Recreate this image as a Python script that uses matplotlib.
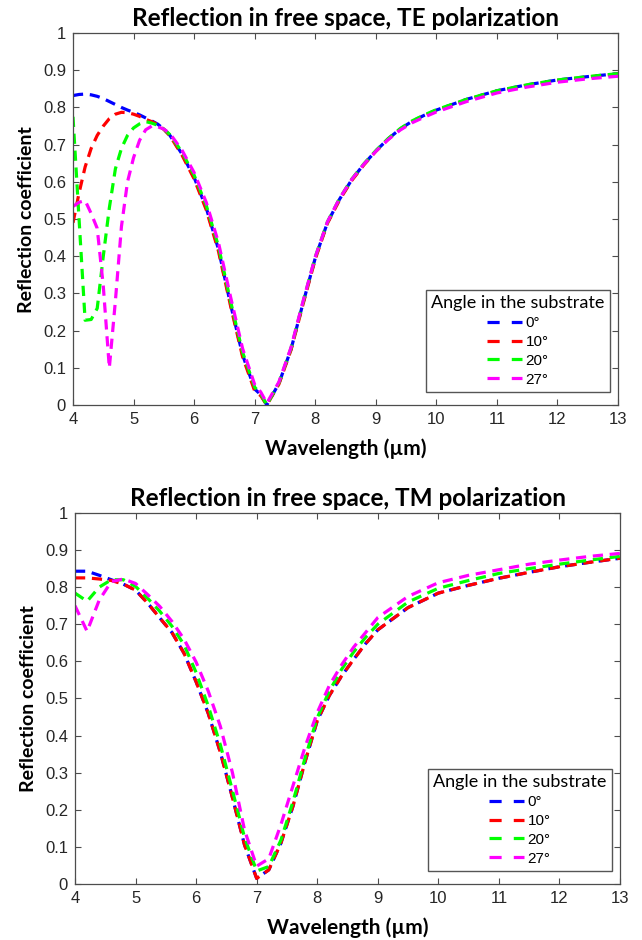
import matplotlib
matplotlib.use("Agg")
import matplotlib.pyplot as plt
from matplotlib.lines import Line2D

# ---- data ----
angles = ["0°", "10°", "20°", "27°"]
colors = ["#0000ff", "#ff0000", "#00ff00", "#ff00ff"]

# TE polarization
te_wl = [4.0, 4.1, 4.2, 4.3, 4.4, 4.5, 4.6, 4.7, 4.8, 4.9, 5.0, 5.1, 5.2, 5.3, 5.4, 5.5, 5.6,
         5.8, 6.0, 6.2, 6.4, 6.6, 6.8, 7.0, 7.1, 7.2, 7.4, 7.6, 7.8, 8.0, 8.2, 8.4, 8.6, 8.8,
         9.0, 9.2, 9.4, 9.6, 9.8, 10.0, 10.5, 11.0, 11.5, 12.0, 12.5, 13.0]
te_0 = [0.832, 0.835, 0.836, 0.834, 0.830, 0.824, 0.816, 0.808, 0.800, 0.793, 0.787, 0.780, 0.772,
        0.764, 0.755, 0.742, 0.725,
        0.675, 0.612, 0.530, 0.420, 0.272, 0.135, 0.043, 0.028, 0.000, 0.058, 0.150, 0.275, 0.395,
        0.490, 0.553, 0.605, 0.647, 0.683, 0.715, 0.742, 0.763, 0.779, 0.793, 0.822, 0.845, 0.861,
        0.874, 0.883, 0.891]
te_10 = [0.490, 0.570, 0.640, 0.690, 0.725, 0.750, 0.770, 0.782, 0.787, 0.786, 0.782, 0.776, 0.768,
         0.762, 0.754, 0.741, 0.724,
         0.672, 0.608, 0.525, 0.415, 0.268, 0.130, 0.038, 0.025, 0.000, 0.056, 0.148, 0.272, 0.392,
         0.488, 0.551, 0.603, 0.645, 0.682, 0.714, 0.741, 0.762, 0.778, 0.792, 0.821, 0.844, 0.860,
         0.873, 0.882, 0.890]
te_20 = [0.775, 0.500, 0.228, 0.230, 0.260, 0.400, 0.530, 0.635, 0.690, 0.725, 0.745, 0.756, 0.762,
         0.758, 0.752, 0.742, 0.727,
         0.680, 0.618, 0.537, 0.428, 0.280, 0.142, 0.048, 0.030, 0.000, 0.060, 0.153, 0.278, 0.398,
         0.492, 0.555, 0.607, 0.648, 0.684, 0.716, 0.743, 0.764, 0.780, 0.794, 0.822, 0.845, 0.861,
         0.874, 0.883, 0.891]
te_27 = [0.534, 0.545, 0.550, 0.515, 0.475, 0.320, 0.100, 0.280, 0.480, 0.600, 0.665, 0.712, 0.740,
         0.750, 0.748, 0.742, 0.730,
         0.685, 0.625, 0.545, 0.438, 0.292, 0.152, 0.055, 0.035, 0.005, 0.062, 0.155, 0.280, 0.398,
         0.492, 0.555, 0.606, 0.647, 0.682, 0.713, 0.739, 0.759, 0.774, 0.788, 0.816, 0.839, 0.855,
         0.868, 0.877, 0.884]

# TM polarization
tm_wl = [4.0, 4.2, 4.4, 4.6, 4.8, 5.0, 5.2, 5.4, 5.6, 5.8, 6.0, 6.2, 6.4, 6.6, 6.8, 7.0, 7.2,
         7.4, 7.6, 7.8, 8.0, 8.2, 8.4, 8.6, 8.8, 9.0, 9.5, 10.0, 10.5, 11.0, 11.5, 12.0, 12.5, 13.0]
tm_0 = [0.843, 0.843, 0.832, 0.820, 0.808, 0.792, 0.757, 0.717, 0.678, 0.622, 0.545, 0.460, 0.355,
        0.233, 0.105, 0.015, 0.038, 0.110, 0.210, 0.330, 0.440, 0.508, 0.560, 0.605, 0.648, 0.685,
        0.745, 0.784, 0.805, 0.824, 0.840, 0.855, 0.867, 0.878]
tm_10 = [0.825, 0.825, 0.822, 0.818, 0.808, 0.792, 0.757, 0.717, 0.678, 0.622, 0.545, 0.460, 0.355,
         0.233, 0.105, 0.015, 0.038, 0.110, 0.210, 0.330, 0.440, 0.508, 0.560, 0.605, 0.648, 0.685,
         0.745, 0.784, 0.805, 0.824, 0.840, 0.855, 0.867, 0.878]
tm_20 = [0.784, 0.762, 0.800, 0.820, 0.820, 0.802, 0.770, 0.735, 0.695, 0.645, 0.570, 0.480, 0.375,
         0.252, 0.125, 0.035, 0.047, 0.118, 0.222, 0.340, 0.448, 0.520, 0.578, 0.625, 0.665, 0.700,
         0.760, 0.797, 0.818, 0.837, 0.850, 0.862, 0.873, 0.883]
tm_27 = [0.750, 0.681, 0.765, 0.815, 0.822, 0.810, 0.780, 0.748, 0.708, 0.660, 0.598, 0.520, 0.425,
         0.300, 0.145, 0.048, 0.068, 0.160, 0.265, 0.370, 0.462, 0.535, 0.590, 0.638, 0.678, 0.718,
         0.775, 0.812, 0.832, 0.847, 0.862, 0.873, 0.883, 0.891]

x_ticks = list(range(4, 14))
y_ticks = [0, 0.1, 0.2, 0.3, 0.4, 0.5, 0.6, 0.7, 0.8, 0.9, 1]
y_ticklabels = ["0", "0.1", "0.2", "0.3", "0.4", "0.5", "0.6", "0.7", "0.8", "0.9", "1"]

panels = [
    ("Reflection in free space, TE polarization", te_wl, [te_0, te_10, te_20, te_27],
     [0.1137, 0.5691, 0.849, 0.3957]),
    ("Reflection in free space, TM polarization", tm_wl, [tm_0, tm_10, tm_20, tm_27],
     [0.1168, 0.0596, 0.849, 0.3947]),
]

label_font = "Lato"
tick_font = "Liberation Sans"
axis_grey = "#4d4d4d"
text_grey = "#262626"

fig = plt.figure(figsize=(6.42, 9.40), dpi=100)

for title, wl, series, rect in panels:
    ax = fig.add_axes(rect)
    for vals, col in zip(series, colors):
        ax.plot(wl, vals, color=col, lw=2.3, linestyle=(0, (3.2, 2.1)))
    ax.set_xlim(4, 13)
    ax.set_ylim(0, 1)
    ax.set_xticks(x_ticks)
    ax.set_yticks(y_ticks)
    ax.set_yticklabels(y_ticklabels)
    ax.tick_params(direction="in", top=True, right=True, length=4.5, width=0.8,
                   colors=axis_grey, labelcolor=text_grey, labelsize=12, pad=5)
    for lab in ax.get_xticklabels() + ax.get_yticklabels():
        lab.set_fontfamily(tick_font)
    for sp in ax.spines.values():
        sp.set_color(axis_grey)
        sp.set_linewidth(0.9)
    ax.set_title(title, fontfamily=label_font, fontweight="bold", fontsize=17.5, pad=5)
    ax.set_xlabel("Wavelength (µm)", fontfamily=label_font, fontweight="bold", fontsize=15,
                  labelpad=8)
    ax.set_ylabel("Reflection coefficient", fontfamily=label_font, fontweight="bold",
                  fontsize=14, labelpad=6)

    handles = [Line2D([], [], color=c, lw=2.3, linestyle=(0, (3.8, 3.8))) for c in colors]
    leg = ax.legend(handles, angles, title="Angle in the substrate", loc="lower right",
                    bbox_to_anchor=(0.985, 0.035), alignment="center", frameon=True,
                    fancybox=False, edgecolor="#555555", framealpha=1,
                    prop={"family": tick_font, "size": 11}, handlelength=2.3,
                    handletextpad=0.2, labelspacing=0.32, borderpad=0.35, borderaxespad=0)
    leg.get_title().set_fontfamily(label_font)
    leg.get_title().set_fontsize(13)
    leg.get_frame().set_linewidth(1.0)

fig.savefig("out.png", dpi=100)
